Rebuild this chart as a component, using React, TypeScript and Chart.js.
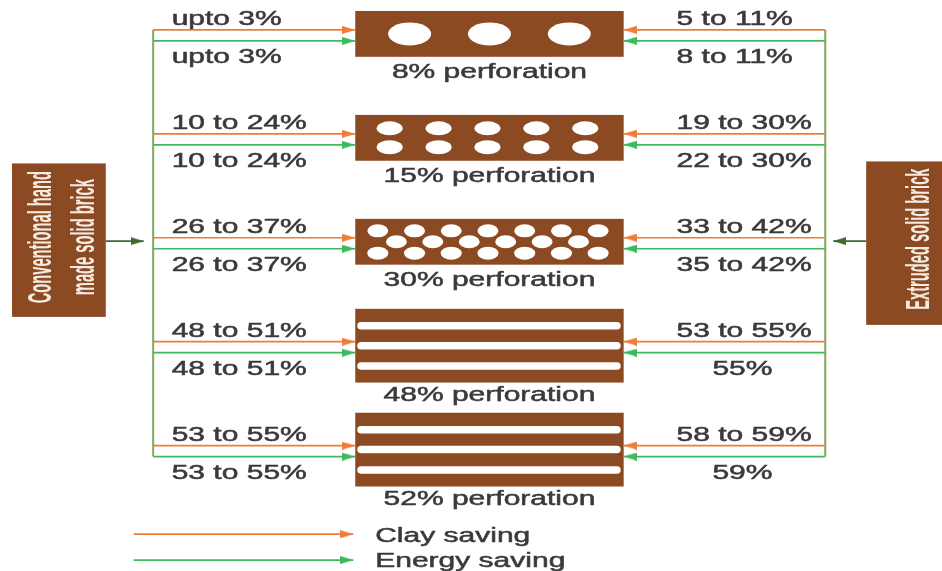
import React, { useEffect, useRef } from 'react';
import { Chart, registerables } from 'chart.js';

Chart.register(...registerables);

// ---------------- data ----------------
const perforations = [8, 15, 30, 48, 52];
const clayConventional = ['upto 3%', '10 to 24%', '26 to 37%', '48 to 51%', '53 to 55%'];
const energyConventional = ['upto 3%', '10 to 24%', '26 to 37%', '48 to 51%', '53 to 55%'];
const clayExtruded = ['5 to 11%', '19 to 30%', '33 to 42%', '53 to 55%', '58 to 59%'];
const energyExtruded = ['8 to 11%', '22 to 30%', '35 to 42%', '55%', '59%'];
const conventionalLabel = ['Conventional hand', 'made solid brick'];
const extrudedLabel = ['Extruded solid brick'];
const legendLabels = ['Clay saving', 'Energy saving'];

// ---------------- layout / style ----------------
const W = 942;
const H = 571;
const ORANGE = '#ef7d39';
const GREEN = '#3dba5e';
const OLIVE = '#82a65a';
const DARK = '#3e6b2b';
const BROWN = '#8c4a23';
const TEXT = '#3a3a3a';
const BOXTEXT = '#f4ebe2';
const FONT = '20px "Liberation Sans", Arial, sans-serif';
const VFONT = 'bold 21px "Liberation Sans", Arial, sans-serif';
const SX = 1.5;

const rowY = (i: number) => 33 + 104.3 * i;
const halfH = (p: number) => (p >= 40 ? 37 : 23);
const brickL = 355;
const brickR = 624;
const brickCX = (brickL + brickR) / 2;
const leftBus = 152.5;
const rightBus = 826;
const clayDy = -4;
const energyDy = 7;

function arrowHead(color: string) {
  const c = document.createElement('canvas');
  const L = 13;
  const h = 8;
  c.width = 2 * L;
  c.height = h;
  const g = c.getContext('2d')!;
  g.fillStyle = color;
  g.beginPath();
  g.moveTo(0, 0);
  g.lineTo(L, h / 2);
  g.lineTo(0, h);
  g.closePath();
  g.fill();
  return c;
}

function arrow(x1: number, x2: number, y: number, color: string, head: HTMLCanvasElement, width = 1.7) {
  return {
    data: [
      { x: x1, y },
      { x: x2, y },
    ],
    showLine: true,
    borderColor: color,
    backgroundColor: color,
    borderWidth: width,
    pointRadius: [0, 1],
    pointHoverRadius: 0,
    pointBorderWidth: 0,
    pointStyle: head,
    pointRotation: x2 < x1 ? 180 : 0,
  };
}

function line(x1: number, y1: number, x2: number, y2: number, color: string, width: number) {
  return {
    data: [
      { x: x1, y: y1 },
      { x: x2, y: y2 },
    ],
    showLine: true,
    borderColor: color,
    borderWidth: width,
    pointRadius: 0,
    pointHoverRadius: 0,
  };
}

const diagramPlugin = {
  id: 'diagram',
  beforeDatasetsDraw(chart: any) {
    const { ctx, scales } = chart;
    const px = (v: number) => scales.x.getPixelForValue(v);
    const py = (v: number) => scales.y.getPixelForValue(v);
    const rect = (x1: number, y1: number, x2: number, y2: number) => {
      ctx.fillRect(px(x1), py(y1), px(x2) - px(x1), py(y2) - py(y1));
    };
    const ell = (cx: number, cy: number, rx: number, ry: number) => {
      ctx.beginPath();
      ctx.ellipse(px(cx), py(cy), rx, ry, 0, 0, Math.PI * 2);
      ctx.fill();
    };
    const slot = (x1: number, x2: number, cy: number, t: number) => {
      const r = t / 2;
      ctx.beginPath();
      ctx.moveTo(px(x1) + r, py(cy) - r);
      ctx.lineTo(px(x2) - r, py(cy) - r);
      ctx.arc(px(x2) - r, py(cy), r, -Math.PI / 2, Math.PI / 2);
      ctx.lineTo(px(x1) + r, py(cy) + r);
      ctx.arc(px(x1) + r, py(cy), r, Math.PI / 2, (3 * Math.PI) / 2);
      ctx.closePath();
      ctx.fill();
    };
    ctx.save();
    // source boxes
    ctx.fillStyle = BROWN;
    rect(11, 163, 105, 317);
    rect(867, 161, 960, 325);
    // bricks
    perforations.forEach((p, i) => {
      const cy = rowY(i);
      const hh = halfH(p);
      ctx.fillStyle = BROWN;
      rect(brickL, cy - hh, brickR, cy + hh);
      ctx.fillStyle = '#ffffff';
      if (p < 10) {
        [-80, 0, 80].forEach((dx) => ell(brickCX + dx, cy, 21.5, 11.5));
      } else if (p < 20) {
        [-9.5, 9.5].forEach((dy) => {
          for (let k = 0; k < 5; k++) ell(brickCX - 2 + (k - 2) * 49, cy + dy, 13, 7);
        });
      } else if (p < 40) {
        [-11, 11.5].forEach((dy) => {
          for (let k = 0; k < 7; k++) ell(brickCX - 1.5 + (k - 3) * 36.8, cy + dy, 10.5, 6.5);
        });
        for (let k = 0; k < 6; k++) ell(brickCX - 2 + (k - 2.5) * 36.5, cy, 10.5, 6.5);
      } else {
        [-20, 0, 20.5].forEach((dy) => slot(brickL + 2, brickR - 3, cy + dy, 7.5));
      }
    });
    ctx.restore();
  },
  afterDatasetsDraw(chart: any) {
    const { ctx, scales } = chart;
    const px = (v: number) => scales.x.getPixelForValue(v);
    const py = (v: number) => scales.y.getPixelForValue(v);
    const text = (s: string, x: number, y: number, align: CanvasTextAlign) => {
      ctx.save();
      ctx.translate(px(x), py(y));
      ctx.scale(SX, 1);
      ctx.textAlign = align;
      ctx.textBaseline = 'alphabetic';
      ctx.lineWidth = 0.5;
      ctx.strokeStyle = TEXT;
      ctx.fillText(s, 0, 0);
      ctx.strokeText(s, 0, 0);
      ctx.restore();
    };
    const vtext = (s: string, bx: number, cy: number) => {
      ctx.save();
      ctx.translate(px(bx), py(cy));
      ctx.rotate(-Math.PI / 2);
      ctx.scale(0.7, 1.6);
      ctx.textAlign = 'center';
      ctx.textBaseline = 'alphabetic';
      ctx.fillText(s, 0, 0);
      ctx.restore();
    };
    ctx.save();
    ctx.font = FONT;
    ctx.fillStyle = TEXT;
    perforations.forEach((p, i) => {
      const cy = rowY(i);
      const hh = halfH(p);
      text(`${p}% perforation`, brickCX, cy + hh + (p >= 40 ? 19 : 21), 'center');
      text(clayConventional[i], 171, cy + clayDy - 5, 'left');
      text(energyConventional[i], 171, cy + energyDy + 22, 'left');
      const rc = clayExtruded[i];
      const re = energyExtruded[i];
      if (rc.includes(' to ')) text(rc, 677, cy + clayDy - 5, 'left');
      else text(rc, 743, cy + clayDy - 5, 'center');
      if (re.includes(' to ')) text(re, 677, cy + energyDy + 22, 'left');
      else text(re, 743, cy + energyDy + 22, 'center');
    });
    text(legendLabels[0], 375, 543, 'left');
    text(legendLabels[1], 375, 568, 'left');
    ctx.font = VFONT;
    ctx.fillStyle = BOXTEXT;
    vtext(conventionalLabel[0], 50, 237);
    vtext(conventionalLabel[1], 93, 237);
    vtext(extrudedLabel[0], 930, 239);
    ctx.restore();
  },
};

export default function App() {
  const ref = useRef<HTMLCanvasElement>(null);
  useEffect(() => {
    document.body.style.margin = '0';
    document.body.style.background = '#ffffff';
    const hO = arrowHead(ORANGE);
    const hG = arrowHead(GREEN);
    const hD = arrowHead(DARK);
    const datasets: any[] = [];
    datasets.push(line(leftBus, rowY(0) + clayDy, leftBus, rowY(4) + energyDy, OLIVE, 2));
    datasets.push(line(rightBus, rowY(0) + clayDy, rightBus, rowY(4) + energyDy, OLIVE, 2));
    perforations.forEach((_, i) => {
      const cy = rowY(i);
      datasets.push(arrow(leftBus, brickL, cy + clayDy, ORANGE, hO));
      datasets.push(arrow(leftBus, brickL, cy + energyDy, GREEN, hG));
      datasets.push(arrow(rightBus, brickR, cy + clayDy, ORANGE, hO));
      datasets.push(arrow(rightBus, brickR, cy + energyDy, GREEN, hG));
    });
    datasets.push(arrow(105, 143, 241, DARK, hD));
    datasets.push(arrow(867, 834, 241, DARK, hD));
    datasets.push(arrow(133, 353, 535, ORANGE, hO));
    datasets.push(arrow(133, 353, 561, GREEN, hG));

    const chart = new Chart(ref.current!, {
      type: 'scatter',
      data: { datasets },
      options: {
        animation: false,
        responsive: false,
        devicePixelRatio: 1,
        events: [],
        layout: { padding: 0 },
        plugins: { legend: { display: false }, tooltip: { enabled: false } },
        scales: {
          x: { type: 'linear', min: 0, max: W, display: false },
          y: { type: 'linear', min: 0, max: H, reverse: true, display: false },
        },
      },
      plugins: [diagramPlugin],
    } as any);
    return () => chart.destroy();
  }, []);
  return (
    <div style={{ position: 'fixed', left: 0, top: 0, width: W, height: H, background: '#fff' }}>
      <canvas ref={ref} width={W} height={H} style={{ width: W, height: H, display: 'block' }} />
    </div>
  );
}
